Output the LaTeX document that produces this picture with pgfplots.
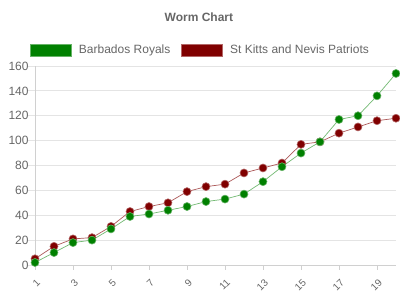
\documentclass[border=0pt]{standalone}
\usepackage{pgfplots}
\pgfplotsset{compat=1.18}
\usepackage{fontspec}
\setmainfont{Liberation Sans}
\definecolor{txt}{HTML}{666666}
\definecolor{gridc}{HTML}{E4E4E4}
\definecolor{axc}{HTML}{D0D0D0}
\definecolor{brg}{HTML}{008000}
\definecolor{skr}{HTML}{800000}
\begin{document}
\begin{tikzpicture}[x=1pt,y=1pt]
\path[use as bounding box] (0,0) rectangle (400,300);
\begin{axis}[
  at={(35pt,35pt)}, anchor=south west,
  scale only axis, width=361pt, height=199pt,
  xmin=1, xmax=20, ymin=0, ymax=160,
  enlargelimits=false,
  axis lines=left, axis line style={draw=axc, -, line width=0.8pt},
  ymajorgrids, grid style={draw=gridc, line width=0.8pt},
  xtick={1,3,...,19}, ytick={0,20,...,160},
  tick align=outside,
  xtick style={draw=axc, line width=0.8pt, /pgfplots/major tick length=5pt},
  ytick style={draw=gridc, line width=0.8pt, /pgfplots/major tick length=8pt},
  /pgf/number format/assume math mode=true,
  tick label style={font=\fontsize{12}{14}\selectfont, text=txt},
  yticklabel style={inner sep=0pt, xshift=-2pt},
  xticklabel style={font=\fontsize{10}{12}\selectfont, inner sep=0pt, xshift=3.5pt, yshift=-11.5pt, rotate=45, anchor=east},
  title={\bfseries Worm Chart},
  title style={at={(axis description cs:0.454,1.216)}, anchor=center, font=\fontsize{12}{14}\selectfont, text=txt, inner sep=0pt},
  legend columns=2, reverse legend,
  legend style={at={(axis description cs:-0.0139,1.080)}, anchor=west, draw=none, fill=none, inner sep=0pt,
    font=\fontsize{12}{14}\selectfont, text=txt,
    nodes={inner sep=0pt, anchor=west},
    /tikz/every odd column/.style={column sep=7pt},
    /tikz/every even column/.style={column sep=11pt}},
]
\addplot[draw=skr!65!white, line width=0.7pt, mark=*, mark size=4pt,
  mark options={fill=skr, draw=skr!60!white, line width=0.6pt},
  legend image code/.code={\draw[fill=skr, draw=skr!60!white, line width=0.8pt] (0pt,-6pt) rectangle (41pt,6pt);}]
coordinates {(1,5)(2,15)(3,21)(4,22)(5,31)(6,43)(7,47)(8,50)(9,59)(10,63)(11,65)(12,74)(13,78)(14,82)(15,97)(16,99)(17,106)(18,111)(19,116)(20,118)};
\addlegendentry{St Kitts and Nevis Patriots}
\addplot[draw=brg!55!white, line width=0.7pt, mark=*, mark size=4pt,
  mark options={fill=brg, draw=brg!60!white, line width=0.6pt},
  legend image code/.code={\draw[fill=brg, draw=brg!60!white, line width=0.8pt] (0pt,-6pt) rectangle (41pt,6pt);}]
coordinates {(1,2)(2,10)(3,18)(4,20)(5,29)(6,39)(7,41)(8,44)(9,47)(10,51)(11,53)(12,57)(13,67)(14,79)(15,90)(16,99)(17,117)(18,120)(19,136)(20,154)};
\addlegendentry{Barbados Royals}
\end{axis}
\end{tikzpicture}
\end{document}
